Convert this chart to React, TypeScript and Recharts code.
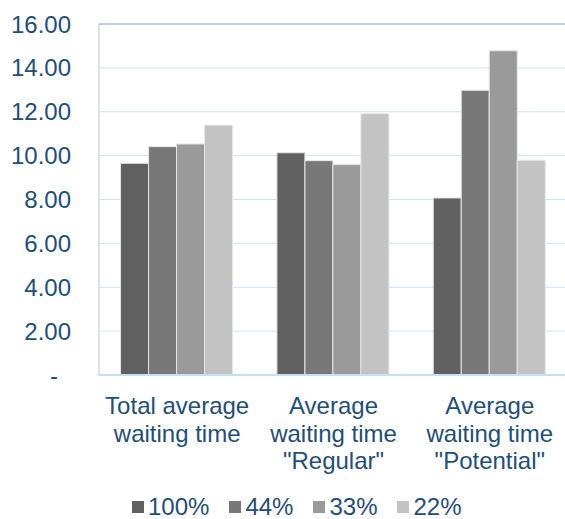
import { BarChart, Bar, XAxis, YAxis, CartesianGrid, Legend, ReferenceLine } from 'recharts';

const categories = ['Total average\nwaiting time', 'Average\nwaiting time\n"Regular"', 'Average\nwaiting time\n"Potential"'];
const seriesNames = ['100%', '44%', '33%', '22%'];
const values100 = [9.65, 10.13, 8.07];
const values44 = [10.41, 9.77, 12.98];
const values33 = [10.53, 9.59, 14.78];
const values22 = [11.39, 11.91, 9.79];
const yTicks = [0, 2, 4, 6, 8, 10, 12, 14, 16];

const colors = ['#606060', '#787878', '#9a9a9a', '#c3c3c3'];
const textColor = '#1f4e79';
const font = '"Liberation Sans", Arial, sans-serif';

const data = categories.map((name, i) => ({
  name,
  s100: values100[i],
  s44: values44[i],
  s33: values33[i],
  s22: values22[i],
}));
const keys = ['s100', 's44', 's33', 's22'];

function YTick(props: any) {
  const { x, y, payload } = props;
  const zero = payload.value === 0;
  return (
    <text
      x={zero ? x - 13 : x}
      y={y}
      dy={8.5}
      textAnchor="end"
      fill={textColor}
      fontSize={24}
      fontFamily={font}
    >
      {zero ? '-' : payload.value.toFixed(2)}
    </text>
  );
}

function XTick(props: any) {
  const { x, y, payload } = props;
  const lines = String(payload.value).split('\n');
  return (
    <text x={x} y={y} textAnchor="middle" fill={textColor} fontSize={24} fontFamily={font}>
      {lines.map((line, i) => (
        <tspan key={i} x={x} dy={i === 0 ? 31 : 27.7}>
          {line}
        </tspan>
      ))}
    </text>
  );
}

function LegendContent() {
  return (
    <div
      style={{
        display: 'flex',
        alignItems: 'center',
        boxSizing: 'border-box',
        height: 44,
        paddingTop: 20,
        paddingLeft: 132,
      }}
    >
      {seriesNames.map((name, i) => (
        <div key={name} style={{ display: 'flex', alignItems: 'center', marginRight: 20, height: 26 }}>
          <div style={{ width: 12, height: 12, background: colors[i], marginRight: 4 }} />
          <span style={{ fontSize: 24, lineHeight: '26px', color: textColor, fontFamily: font, whiteSpace: 'nowrap' }}>
            {name}
          </span>
        </div>
      ))}
    </div>
  );
}

export default function App() {
  return (
    <div style={{ width: 565, height: 519, overflow: 'hidden', position: 'relative' }}>
      <style>{'body{margin:0}'}</style>
      <BarChart
        width={568}
        height={519}
        data={data}
        margin={{ top: 24, right: 0, left: 0, bottom: 0 }}
        barCategoryGap="13.8%"
        barGap={0}
      >
        <CartesianGrid horizontal vertical={false} stroke="#cce4f7" strokeWidth={1} />
        <XAxis
          dataKey="name"
          height={100}
          interval={0}
          tickLine={false}
          axisLine={{ stroke: '#c5dff5', strokeWidth: 2 }}
          tick={<XTick />}
        />
        <YAxis
          width={99}
          domain={[0, 16]}
          ticks={yTicks}
          tickLine={false}
          tickSize={0}
          tickMargin={28}
          axisLine={{ stroke: '#c4c4c4', strokeWidth: 1 }}
          tick={<YTick />}
        />
        <ReferenceLine y={16} stroke="#bcc3ca" strokeWidth={1.5} />
        {keys.map((k, i) => (
          <Bar key={k} dataKey={k} name={seriesNames[i]} fill={colors[i]} stroke="#e6e6e6" strokeWidth={1} isAnimationActive={false} />
        ))}
        <Legend verticalAlign="bottom" height={44} content={<LegendContent />} wrapperStyle={{ left: 0, width: 565 }} />
      </BarChart>
    </div>
  );
}
